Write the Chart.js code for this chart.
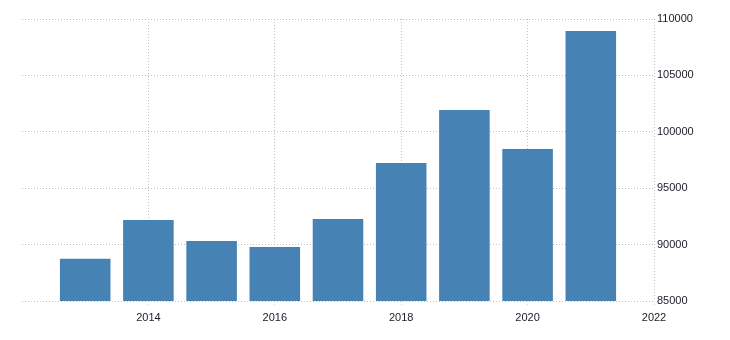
<!DOCTYPE html>
<html>
<head>
<meta charset="utf-8">
<script src="https://cdn.jsdelivr.net/npm/chart.js@4"></script>
<style>
  html, body { margin: 0; padding: 0; background: #fff; }
  #wrap { width: 730px; height: 340px; }
</style>
</head>
<body>
<div id="wrap"><canvas id="c" width="730" height="340"></canvas></div>
<script>
const years = [2013, 2014, 2015, 2016, 2017, 2018, 2019, 2020, 2021];
const values = [88750, 92180, 90320, 89790, 92270, 97230, 101930, 98475, 108940];
const xTickLabels = [2014, 2016, 2018, 2020, 2022];
const yTickLabels = [85000, 90000, 95000, 100000, 105000, 110000];

const gridColor = '#c0c0c0';
const textColor = '#1a1a2a';
const font = { family: '"Liberation Sans", Arial, sans-serif', size: 11 };

// Make the library's grid lines dotted while the scales are drawn.
const dottedGrid = {
  id: 'dottedGrid',
  beforeDraw(chart) {
    const ctx = chart.ctx;
    if (!ctx._origSetLineDash) ctx._origSetLineDash = ctx.setLineDash;
    ctx.setLineDash = function () { ctx._origSetLineDash.call(ctx, [1, 2]); };
  },
  beforeDatasetsDraw(chart) {
    const ctx = chart.ctx;
    if (ctx._origSetLineDash) {
      ctx.setLineDash = ctx._origSetLineDash;
      ctx.setLineDash([]);
    }
  }
};

new Chart(document.getElementById('c'), {
  type: 'bar',
  data: {
    datasets: [{
      data: years.map((y, i) => ({ x: y, y: values[i] })),
      backgroundColor: '#4682b4',
      borderWidth: 0,
      barPercentage: 1,
      categoryPercentage: 0.8
    }]
  },
  options: {
    responsive: false,
    animation: false,
    layout: { padding: { left: 22, top: 19, right: 0, bottom: 0 } },
    plugins: { legend: { display: false }, tooltip: { enabled: false } },
    scales: {
      x: {
        type: 'linear',
        offset: false,
        min: 2012,
        max: 2022,
        afterBuildTicks: (s) => { s.ticks = xTickLabels.map(v => ({ value: v })); },
        afterFit: (s) => { s.height = 39; },
        border: { display: false },
        grid: {
          offset: false,
          color: gridColor,
          lineWidth: 1,
          drawTicks: true,
          tickLength: 4,
          tickColor: '#dcdcdc'
        },
        ticks: {
          color: textColor,
          font: font,
          padding: 6,
          maxRotation: 0,
          autoSkip: false,
          callback: (v) => String(v)
        }
      },
      y: {
        position: 'right',
        min: 85000,
        max: 110000,
        afterBuildTicks: (s) => { s.ticks = yTickLabels.map(v => ({ value: v })); },
        afterFit: (s) => { s.width = 76; },
        border: { display: false },
        grid: {
          color: gridColor,
          lineWidth: 1,
          drawTicks: false
        },
        ticks: {
          color: textColor,
          font: font,
          padding: 3,
          callback: (v) => String(v)
        }
      }
    }
  },
  plugins: [dottedGrid]
});
</script>
</body>
</html>
